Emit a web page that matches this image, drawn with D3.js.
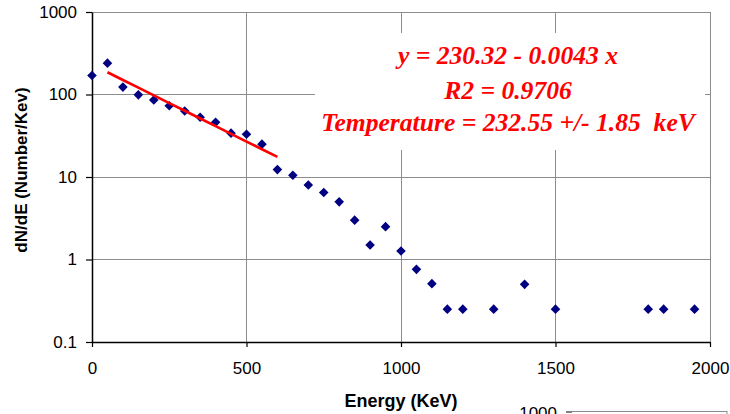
<!DOCTYPE html>
<html>
<head>
<meta charset="utf-8">
<script src="https://cdn.jsdelivr.net/npm/d3@7/dist/d3.min.js"></script>
<style>
  html, body { margin: 0; padding: 0; background: #fff; }
  svg { display: block; }
</style>
</head>
<body>
<svg id="chart" width="730" height="414"></svg>
<script>
// ---- data ----
const energy = [0, 50, 100, 150, 200, 250, 300, 350, 400, 450, 500, 550, 600, 650, 700, 750, 800, 850, 900, 950, 1000, 1050, 1100, 1150, 1200, 1300, 1400, 1500, 1800, 1850, 1950];
const counts = [170, 240, 123, 99, 86, 73, 63, 53, 46, 34, 33, 25, 12.3, 10.5, 8, 6.5, 5, 3, 1.5, 2.5, 1.27, 0.76, 0.51, 0.25, 0.25, 0.25, 0.5, 0.25, 0.25, 0.25, 0.25];
const fitEnergy = [50, 100, 150, 200, 250, 300, 350, 400, 450, 500, 550, 600];
const fitCounts = [186, 150, 121, 97.5, 78.7, 63.5, 51.2, 41.3, 33.3, 26.9, 21.7, 17.5];
const xTicks = [0, 500, 1000, 1500, 2000];
const yTicks = [0.1, 1, 10, 100, 1000];
const yTickLabels = ["0.1", "1", "10", "100", "1000"];
const annotation = ["y = 230.32 - 0.0043 x", "R2 = 0.9706", "Temperature = 232.55 +/- 1.85  keV"];
const xTitle = "Energy (KeV)";
const yTitle = "dN/dE (Number/Kev)";

// ---- layout ----
const svg = d3.select("#chart");
const L = 92, R = 710, T = 12, B = 342;
const x = d3.scaleLinear().domain([0, 2000]).range([L, R]);
const y = d3.scaleLog().domain([0.1, 1000]).range([B, T]);
const tickFont = "Arial, 'Liberation Sans', sans-serif";

svg.append("rect").attr("width", 730).attr("height", 414).attr("fill", "#fff");

// gridlines
const grid = svg.append("g");
grid.selectAll("line.gx").data(xTicks.slice(1)).join("line")
  .attr("x1", d => x(d)).attr("x2", d => x(d)).attr("y1", T).attr("y2", B)
  .attr("stroke", "#8c8c8c").attr("stroke-width", 1).attr("shape-rendering", "crispEdges");
grid.selectAll("line.gy").data(yTicks.slice(1)).join("line")
  .attr("x1", L).attr("x2", R).attr("y1", d => y(d)).attr("y2", d => y(d))
  .attr("stroke", "#8c8c8c").attr("stroke-width", 1).attr("shape-rendering", "crispEdges");

// annotation box (white, covers gridlines)
svg.append("rect").attr("x", 315).attr("y", 33).attr("width", 390).attr("height", 117).attr("fill", "#fff");
const baselines = [64, 99, 131];
svg.append("g").selectAll("text").data(annotation).join("text")
  .attr("x", 508).attr("y", (d, i) => baselines[i])
  .attr("text-anchor", "middle")
  .attr("font-family", "'Times New Roman', 'Liberation Serif', serif")
  .attr("font-weight", "bold").attr("font-style", "italic")
  .attr("font-size", 25.6).attr("fill", "#ff0000")
  .style("white-space", "pre")
  .text(d => d);

// axes
const yAxis = svg.append("g").attr("transform", `translate(${L},0)`)
  .call(d3.axisLeft(y).tickValues(yTicks).tickFormat((d, i) => yTickLabels[i]).tickSize(6).tickSizeOuter(0).tickPadding(9));
const xAxis = svg.append("g").attr("transform", `translate(0,${B})`)
  .call(d3.axisBottom(x).tickValues(xTicks).tickFormat(d3.format("d")).tickSize(5).tickSizeOuter(0).tickPadding(15));
[xAxis, yAxis].forEach(g => {
  g.selectAll("path.domain").attr("stroke", "#000").attr("stroke-width", 1.5);
  g.selectAll(".tick line").attr("stroke", "#000").attr("stroke-width", 1.2);
  g.selectAll("text").attr("font-family", tickFont).attr("font-size", 17).attr("fill", "#000");
});

// markers
const diamond = d3.symbol().type(d3.symbolSquare).size(46);
svg.append("g").selectAll("path").data(energy).join("path")
  .attr("d", diamond)
  .attr("transform", (d, i) => `translate(${x(d)},${y(counts[i])}) rotate(45)`)
  .attr("fill", "#000080");

// fit line
svg.append("path")
  .datum(fitEnergy.map((e, i) => [e, fitCounts[i]]))
  .attr("d", d3.line().x(d => x(d[0])).y(d => y(d[1])))
  .attr("fill", "none").attr("stroke", "#ff0000").attr("stroke-width", 2.6);

// axis titles
svg.append("text").attr("x", (L + R) / 2).attr("y", 407).attr("text-anchor", "middle")
  .attr("font-family", tickFont).attr("font-weight", "bold").attr("font-size", 18).text(xTitle);
svg.append("text").attr("transform", "translate(27,170) rotate(-90)").attr("text-anchor", "middle")
  .attr("font-family", tickFont).attr("font-weight", "bold").attr("font-size", 17).text(yTitle);

// fragment of next chart (bottom right), cut off by the frame as in the reference
svg.append("text").attr("x", 557).attr("y", 419).attr("text-anchor", "end")
  .attr("font-family", tickFont).attr("font-size", 17).text(yTickLabels[4]);
svg.append("line").attr("x1", 566).attr("x2", 572).attr("y1", 412).attr("y2", 412).attr("stroke", "#000");
svg.append("line").attr("x1", 572).attr("x2", 727).attr("y1", 411.5).attr("y2", 411.5).attr("stroke", "#8c8c8c");
svg.append("line").attr("x1", 727).attr("x2", 727).attr("y1", 411).attr("y2", 414).attr("stroke", "#8c8c8c");
</script>
</body>
</html>
